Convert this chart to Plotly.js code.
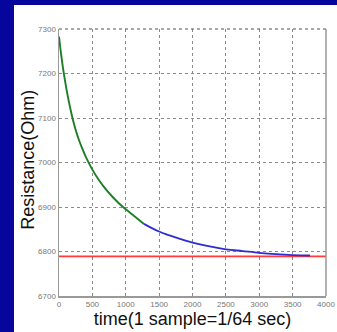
<!DOCTYPE html>
<html>
<head>
<meta charset="utf-8">
<script src="https://cdn.plot.ly/plotly-3.0.1.min.js"></script>
<style>
html,body{margin:0;padding:0;width:337px;height:332px;overflow:hidden;background:#06069c;}
#panel{position:absolute;left:14px;top:5px;width:323px;height:327px;background:#ffffff;}
#chart{position:absolute;left:0;top:0;width:337px;height:332px;}
</style>
</head>
<body>
<div id="panel"></div>
<div id="chart"></div>
<script>
// Green segment (early samples)
const greenT = [0, 30, 60, 90, 120, 150, 180, 210, 250, 300, 350, 400, 450, 500, 600, 700, 800, 900, 1000, 1100, 1200, 1273];
const greenR = [7283, 7245, 7212, 7184, 7158, 7135, 7114, 7095, 7073, 7050, 7031, 7013, 6998, 6984, 6960, 6940, 6923, 6908, 6895, 6883, 6871, 6862];
// Blue segment (later samples)
const blueT = [1273, 1400, 1500, 1600, 1700, 1800, 2000, 2200, 2500, 2750, 3000, 3250, 3500, 3760];
const blueR = [6862, 6852, 6845, 6839, 6834, 6829, 6820, 6813, 6805, 6801, 6797, 6794, 6792, 6791];
// Red reference level
const redT = [0, 4000];
const redR = [6789, 6789];
const xTicks = [0, 500, 1000, 1500, 2000, 2500, 3000, 3500, 4000];
const yTicks = [6700, 6800, 6900, 7000, 7100, 7200, 7300];

const tickFont = {family: 'Liberation Sans Narrow, Arial Narrow, Liberation Sans, sans-serif', size: 8, color: '#777777'};
const titleFont = {family: 'Liberation Sans, Arial, sans-serif', size: 18, color: '#111111'};

const traces = [
  {x: redT, y: redR, type: 'scatter', mode: 'lines', line: {color: '#ff3b3b', width: 1.6}, hoverinfo: 'skip'},
  {x: blueT, y: blueR, type: 'scatter', mode: 'lines', line: {color: '#2e2ed0', width: 1.8, shape: 'spline'}, hoverinfo: 'skip'},
  {x: greenT, y: greenR, type: 'scatter', mode: 'lines', line: {color: '#1c7f26', width: 1.9, shape: 'spline'}, hoverinfo: 'skip'}
];

const layout = {
  width: 337, height: 332,
  margin: {l: 59, r: 11, t: 29, b: 36},
  paper_bgcolor: 'rgba(0,0,0,0)',
  plot_bgcolor: '#ffffff',
  showlegend: false,
  xaxis: {
    range: [0, 4000], tickvals: xTicks, ticktext: xTicks.map(String),
    showgrid: true, gridcolor: '#8a8a8a', griddash: 'dot', gridwidth: 1,
    showline: true, linecolor: '#999999', linewidth: 1.5,
    zeroline: false, ticks: '', tickfont: tickFont,
    title: {text: 'time(1 sample=1/64 sec)', font: titleFont, standoff: 4}
  },
  yaxis: {
    range: [6700, 7300], tickvals: yTicks, ticktext: yTicks.map(String),
    showgrid: true, gridcolor: '#8a8a8a', griddash: 'dot', gridwidth: 1,
    showline: true, linecolor: '#999999', linewidth: 1.5,
    zeroline: false, ticks: '', tickfont: tickFont
  },
  annotations: [
    {text: 'Resistance(Ohm)', xref: 'paper', yref: 'paper', x: -0.116, y: 0.51,
     xanchor: 'center', yanchor: 'middle', textangle: -90, showarrow: false, font: titleFont}
  ],
  shapes: [
    {type: 'line', xref: 'paper', yref: 'paper', x0: 0, x1: 1, y0: 1, y1: 1, line: {color: '#555555', width: 1.2, dash: 'dot'}},
    {type: 'line', xref: 'paper', yref: 'paper', x0: 1, x1: 1, y0: 0, y1: 1, line: {color: '#999999', width: 1.5}}
  ]
};

Plotly.newPlot('chart', traces, layout, {staticPlot: true, displayModeBar: false});
</script>
</body>
</html>
